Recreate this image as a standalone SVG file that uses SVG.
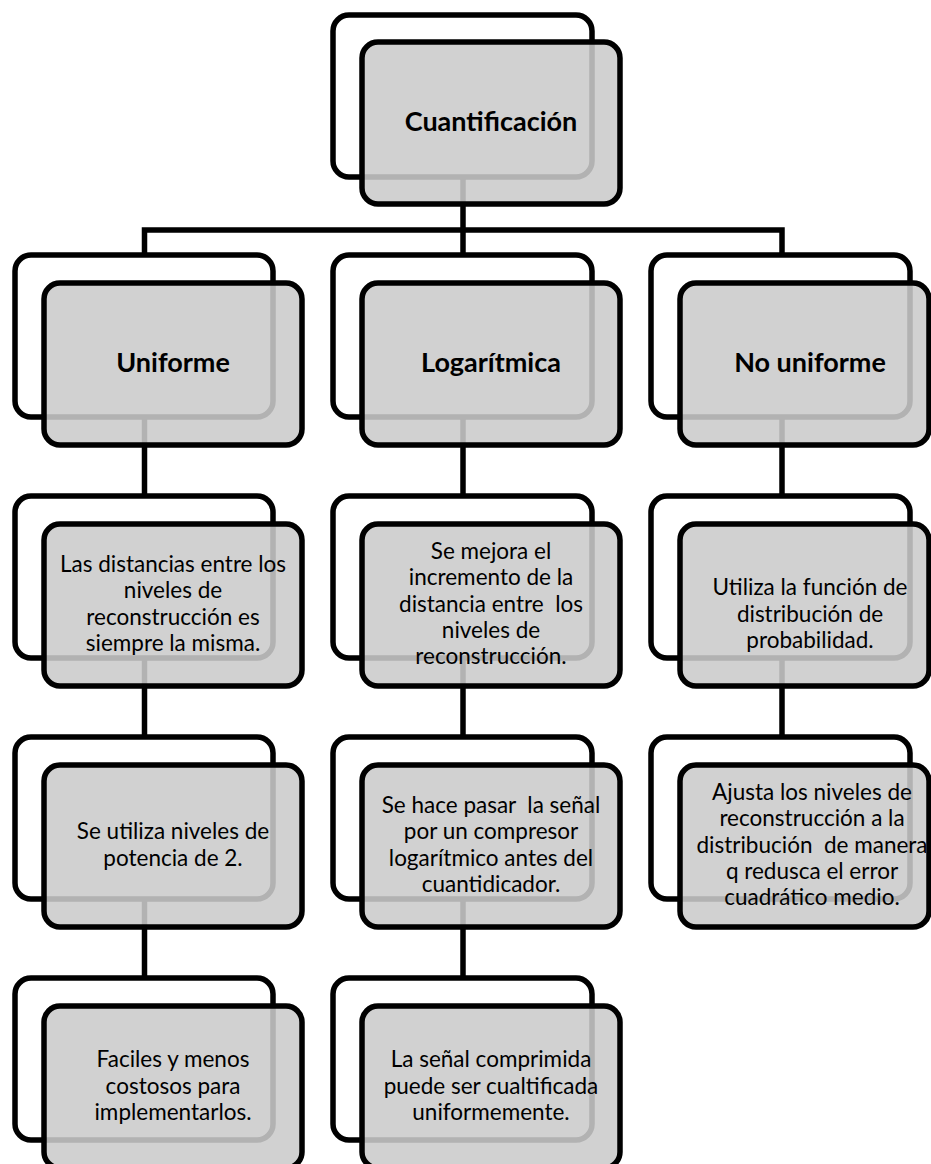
<svg xmlns="http://www.w3.org/2000/svg" width="931" height="1164" viewBox="0 0 931 1164">
<style>
.back{fill:#ffffff;stroke:#000;stroke-width:5.5}
.front{fill:#cbcbcb;fill-opacity:0.88;stroke:#000;stroke-width:5.5}
.conn{fill:none;stroke:#000;stroke-width:5.5;stroke-linejoin:miter}
.t{font-family:Lato,"Liberation Sans",sans-serif;font-size:22.5px;fill:#000;text-anchor:middle;white-space:pre}
.h{font-family:Lato,"Liberation Sans",sans-serif;font-size:27px;font-weight:bold;fill:#000;text-anchor:middle}
</style>
<rect width="931" height="1164" fill="#fff"/>
<g id="backs">
<rect class="back" x="333" y="15" width="259" height="162" rx="16"/>
<rect class="back" x="15" y="255" width="258" height="162" rx="16"/>
<rect class="back" x="333" y="255" width="259" height="162" rx="16"/>
<rect class="back" x="651" y="255" width="259" height="162" rx="16"/>
<rect class="back" x="15" y="496" width="258" height="162" rx="16"/>
<rect class="back" x="333" y="496" width="259" height="162" rx="16"/>
<rect class="back" x="651" y="496" width="259" height="162" rx="16"/>
<rect class="back" x="15" y="737" width="258" height="162" rx="16"/>
<rect class="back" x="333" y="737" width="259" height="162" rx="16"/>
<rect class="back" x="651" y="737" width="259" height="162" rx="16"/>
<rect class="back" x="15" y="978" width="258" height="162" rx="16"/>
<rect class="back" x="333" y="978" width="259" height="162" rx="16"/>
</g>
<g id="connectors">
<polyline class="conn" points="463,177 463,230"/>
<polyline class="conn" points="144.5,255 144.5,230 782,230 782,255"/>
<line class="conn" x1="463" y1="230" x2="463" y2="255"/>
<line class="conn" x1="144.5" y1="417" x2="144.5" y2="496"/>
<line class="conn" x1="144.5" y1="658" x2="144.5" y2="737"/>
<line class="conn" x1="144.5" y1="899" x2="144.5" y2="978"/>
<line class="conn" x1="463" y1="417" x2="463" y2="496"/>
<line class="conn" x1="463" y1="658" x2="463" y2="737"/>
<line class="conn" x1="463" y1="899" x2="463" y2="978"/>
<line class="conn" x1="782" y1="417" x2="782" y2="496"/>
<line class="conn" x1="782" y1="658" x2="782" y2="737"/>
</g>
<g id="n-cuantificacion">
<rect class="front" x="362" y="42" width="258" height="162" rx="16"/>
<text class="h" x="491" y="131">Cuantificación</text>
</g>
<g id="n-uniforme">
<rect class="front" x="44" y="283" width="258" height="162" rx="16"/>
<text class="h" x="173" y="372">Uniforme</text>
</g>
<g id="n-logaritmica">
<rect class="front" x="362" y="283" width="258" height="162" rx="16"/>
<text class="h" x="491" y="372">Logarítmica</text>
</g>
<g id="n-nouniforme">
<rect class="front" x="680" y="283" width="249" height="162" rx="16"/>
<text class="h" x="810" y="372">No uniforme</text>
</g>
<g id="n-u1">
<rect class="front" x="44" y="524" width="258" height="162" rx="16"/>
<text class="t" x="173" y="572">Las distancias entre los</text>
<text class="t" x="173" y="598.3">niveles de</text>
<text class="t" x="173" y="624.6">reconstrucción es</text>
<text class="t" x="173" y="651">siempre la misma.</text>
</g>
<g id="n-u2">
<rect class="front" x="44" y="765" width="258" height="162" rx="16"/>
<text class="t" x="173" y="839.4">Se utiliza niveles de</text>
<text class="t" x="173" y="865.7">potencia de 2.</text>
</g>
<g id="n-u3">
<rect class="front" x="44" y="1006" width="258" height="162" rx="16"/>
<text class="t" x="173" y="1067.2">Faciles y menos</text>
<text class="t" x="173" y="1093.5">costosos para</text>
<text class="t" x="173" y="1119.8">implementarlos.</text>
</g>
<g id="n-l1">
<rect class="front" x="362" y="524" width="258" height="162" rx="16"/>
<text class="t" x="491" y="558.9">Se mejora el</text>
<text class="t" x="491" y="585.2">incremento de la</text>
<text class="t" x="491" y="611.5">distancia entre  los</text>
<text class="t" x="491" y="637.8">niveles de</text>
<text class="t" x="491" y="664.1">reconstrucción.</text>
</g>
<g id="n-l2">
<rect class="front" x="362" y="765" width="258" height="162" rx="16"/>
<text class="t" x="491" y="813">Se hace pasar  la señal</text>
<text class="t" x="491" y="839.3">por un compresor</text>
<text class="t" x="491" y="865.6">logarítmico antes del</text>
<text class="t" x="491" y="891.9">cuantidicador.</text>
</g>
<g id="n-l3">
<rect class="front" x="362" y="1006" width="258" height="162" rx="16"/>
<text class="t" x="491" y="1067.2">La señal comprimida</text>
<text class="t" x="491" y="1093.5">puede ser cualtificada</text>
<text class="t" x="491" y="1119.8">uniformemente.</text>
</g>
<g id="n-n1">
<rect class="front" x="680" y="524" width="249" height="162" rx="16"/>
<text class="t" x="810" y="595">Utiliza la función de</text>
<text class="t" x="810" y="621.5">distribución de</text>
<text class="t" x="810" y="648">probabilidad.</text>
</g>
<g id="n-n2">
<rect class="front" x="680" y="765" width="249" height="162" rx="16"/>
<text class="t" x="812" y="800">Ajusta los niveles de</text>
<text class="t" x="812" y="826.3">reconstrucción a la</text>
<text class="t" x="812" y="852.6">distribución  de manera</text>
<text class="t" x="812" y="878.9">q redusca el error</text>
<text class="t" x="812" y="905.2">cuadrático medio.</text>
</g>
</svg>
